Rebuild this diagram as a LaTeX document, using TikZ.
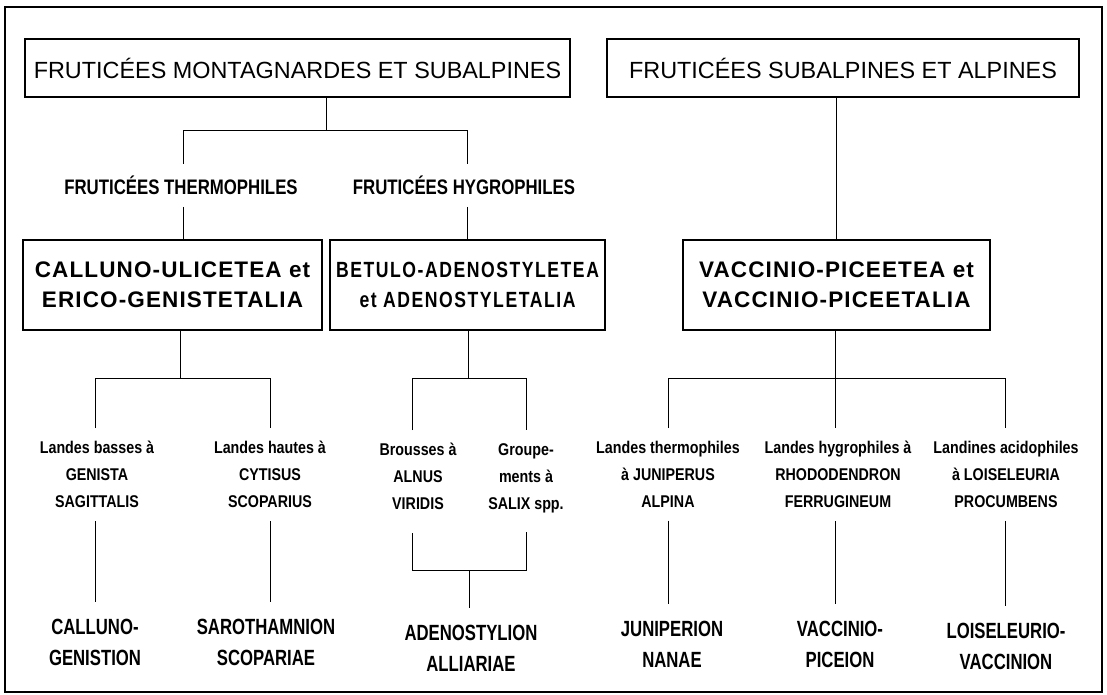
\documentclass[tikz,border=0pt]{standalone}
\usepackage{fontspec}
\setmainfont{Liberation Sans}
\newfontfamily\classfont[LetterSpace=5]{Liberation Sans}
\newfontfamily\narrowfont[FakeStretch=0.80]{Liberation Sans}
\newfontfamily\orderfont[FakeStretch=0.80,LetterSpace=7]{Liberation Sans}
\newfontfamily\landfont[FakeStretch=0.84]{Liberation Sans}
\newfontfamily\allfont[FakeStretch=0.76]{Liberation Sans}

\begin{document}
\begin{tikzpicture}[x=1pt,y=-1pt,
  conn/.style={draw=black, line width=1pt},
  frame/.style={draw=black, line width=1.6pt},
  groupbox/.style={draw=black, line width=1.2pt, inner sep=0pt, minimum height=58pt,
    font=\fontsize{23.4}{28}\selectfont},
  grouplabel/.style={inner xsep=0pt, inner ysep=12pt, anchor=base,
    font=\narrowfont\bfseries\fontsize{21}{25}\selectfont},
  classbox/.style={draw=black, line width=2.4pt, inner sep=0pt, minimum height=90pt, align=center,
    font=\classfont\bfseries\fontsize{22.5}{30}\selectfont},
  orderbox/.style={classbox, font=\orderfont\bfseries\fontsize{22}{30}\selectfont},
  landlabel/.style={anchor=north, inner xsep=0pt, inner ysep=13pt, align=center,
    font=\landfont\bfseries\fontsize{17}{27}\selectfont},
  alliance/.style={anchor=north, inner xsep=0pt, inner ysep=17pt, align=center,
    font=\allfont\bfseries\fontsize{22}{31}\selectfont}
]
\useasboundingbox (0,0) rectangle (1107,695);
\draw[frame] (5,7) rectangle (1102,692);

% top level groups
\node[groupbox, minimum width=545pt] (tl) at (297.5,68) {FRUTICÉES MONTAGNARDES ET SUBALPINES};
\node[groupbox, minimum width=472pt] (tr) at (843,68) {FRUTICÉES SUBALPINES ET ALPINES};

% ecological subgroups
\node[grouplabel] (th) at (181,194.5) {FRUTICÉES THERMOPHILES};
\node[grouplabel] (hy) at (464,194.5) {FRUTICÉES HYGROPHILES};

% classes and orders
\node[classbox, minimum width=299pt] (cu) at (172.5,285) {CALLUNO-ULICETEA et\\ERICO-GENISTETALIA};
\node[orderbox, minimum width=275pt] (ba) at (467.5,285) {BETULO-ADENOSTYLETEA\\et ADENOSTYLETALIA};
\node[classbox, minimum width=307pt] (vp) at (836.5,285) {VACCINIO-PICEETEA et\\VACCINIO-PICEETALIA};

% vegetation types
\node[landlabel] (lb) at (97,428) {Landes basses à\\GENISTA\\SAGITTALIS};
\node[landlabel] (lh) at (270,428) {Landes hautes à\\CYTISUS\\SCOPARIUS};
\node[landlabel] (br) at (418,430) {Brousses à\\ALNUS\\VIRIDIS};
\node[landlabel] (gr) at (526,430) {Groupe-\\ments à\\SALIX spp.};
\node[landlabel] (lt) at (668,428) {Landes thermophiles\\à JUNIPERUS\\ALPINA};
\node[landlabel] (ly) at (838,428) {Landes hygrophiles à\\RHODODENDRON\\FERRUGINEUM};
\node[landlabel] (la) at (1006,428) {Landines acidophiles\\à LOISELEURIA\\PROCUMBENS};

% alliances
\node[alliance] (cg) at (95,602) {CALLUNO-\\GENISTION};
\node[alliance] (sa) at (266,602) {SAROTHAMNION\\SCOPARIAE};
\node[alliance] (ad) at (471,608) {ADENOSTYLION\\ALLIARIAE};
\node[alliance] (jn) at (672,604) {JUNIPERION\\NANAE};
\node[alliance] (vc) at (840,604) {VACCINIO-\\PICEION};
\node[alliance] (lo) at (1006,606) {LOISELEURIO-\\VACCINION};

% montane branch
\coordinate (j1) at (326,131);
\coordinate (b1a) at (183,131);
\coordinate (b1b) at (467,131);
\draw[conn] (tl.south -| j1) -- (j1);
\draw[conn] (b1a |- th.north) -- (b1a) -- (b1b) -- (b1b |- hy.north);
\draw[conn] (b1a |- th.south) -- (b1a |- cu.north);
\draw[conn] (b1b |- hy.south) -- (b1b |- ba.north);

% subalpine branch
\draw[conn] (tr.south -| vp.north) -- (vp.north);

% Calluno-Ulicetea
\coordinate (j2) at (180,378);
\coordinate (b2a) at (95,378);
\coordinate (b2b) at (270,378);
\draw[conn] (cu.south -| j2) -- (j2);
\draw[conn] (b2a |- lb.north) -- (b2a) -- (b2b) -- (b2b |- lh.north);
\draw[conn] (b2a |- lb.south) -- (b2a |- cg.north);
\draw[conn] (b2b |- lh.south) -- (b2b |- sa.north);

% Betulo-Adenostyletea
\coordinate (j3) at (468.5,378);
\coordinate (b3a) at (412.5,378);
\coordinate (b3b) at (526,378);
\coordinate (k3) at (469,570);
\draw[conn] (ba.south -| j3) -- (j3);
\draw[conn] (b3a |- br.north) -- (b3a) -- (b3b) -- (b3b |- gr.north);
\draw[conn, shorten <=10pt, shorten >=6pt] (b3a |- br.south) -- (b3a |- k3) -- (b3b |- k3) -- (b3b |- gr.south);
\draw[conn] (k3) -- (k3 |- ad.north);

% Vaccinio-Piceetea
\coordinate (j4) at (835,378);
\coordinate (b4a) at (668,378);
\coordinate (b4b) at (1005,378);
\draw[conn] (vp.south -| j4) -- (j4 |- ly.north);
\draw[conn] (b4a |- lt.north) -- (b4a) -- (b4b) -- (b4b |- la.north);
\draw[conn] (b4a |- lt.south) -- (b4a |- jn.north);
\draw[conn] (j4 |- ly.south) -- (j4 |- vc.north);
\draw[conn] (b4b |- la.south) -- (b4b |- lo.north);
\end{tikzpicture}
\end{document}
